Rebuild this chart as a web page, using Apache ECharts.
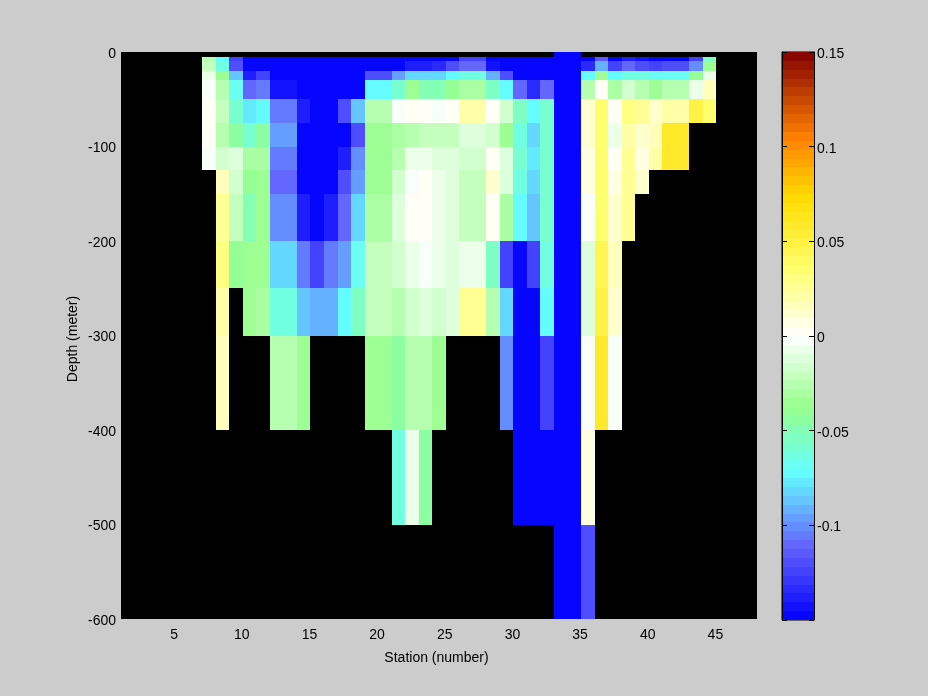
<!DOCTYPE html>
<html>
<head>
<meta charset="utf-8">
<style>html,body{margin:0;padding:0;background:#ccc}#c{width:928px;height:696px}</style>
<script src="https://cdn.jsdelivr.net/npm/echarts@6/dist/echarts.min.js"></script>
</head>
<body>
<div id="c"></div>
<script>
const _ = null;
const firstStation = 7;
const depthEdges = [0,-5,-10,-20,-30,-50,-75,-100,-125,-150,-200,-250,-300,-400,-500,-600];
const xTickLabels = [5,10,15,20,25,30,35,40,45];
const barTicks = [-0.15,-0.1,-0.05,0,0.05,0.1,0.15];

// values per depth layer, stations 7..44 (null = no data)
const layer00 = [_,_,_,_,_,_,_,_,_,_,_,_,_,_, _,_,_,_,_,_,_,_,_,_,_,_, -.15,-.15, _,_,_,_,_,_,_,_,_,_];
const layer01 = [-.025,-.072,-.126,-.15,-.15,-.15,-.15,-.15,-.15,-.15,-.15,-.15,-.15,-.15, -.15,-.15,-.15,-.15,-.15,-.126,-.126,-.15,-.15,-.15,-.15,-.15, -.15,-.15, -.15,-.116,-.15,-.14,-.142,-.15,-.15,-.15,-.126,-.054];
const layer02 = [-.02,-.062,-.118,-.15,-.15,-.15,-.15,-.15,-.15,-.15,-.15,-.15,-.15,-.15, -.15,-.137,-.137,-.133,-.121,-.111,-.111,-.145,-.15,-.15,-.15,-.15, -.15,-.15, -.133,-.093,-.126,-.111,-.118,-.126,-.121,-.121,-.101,-.033];
const layer03 = [-.008,-.037,-.086,-.137,-.126,-.15,-.15,-.15,-.15,-.15,-.15,-.15,-.118,-.118, -.094,-.08,-.08,-.08,-.072,-.062,-.062,-.093,-.118,-.15,-.15,-.15, -.15,-.15, -.072,-.033,-.072,-.062,-.065,-.07,-.066,-.066,-.04,-.008];
const layer04 = [-.004,-.025,-.067,-.111,-.106,-.145,-.145,-.15,-.15,-.15,-.15,-.15,-.072,-.072, -.057,-.037,-.05,-.05,-.042,-.032,-.032,-.054,-.072,-.111,-.135,-.111, -.15,-.15, -.028,.002,-.032,-.017,-.025,-.035,-.025,-.025,-.008,.016];
const layer05 = [.002,-.021,-.06,-.078,-.072,-.104,-.104,-.14,-.15,-.15,-.118,-.086,-.025,-.025, -.003,.002,.002,-.003,.002,.02,.02,.002,-.017,-.054,-.072,-.057, -.15,-.15, .01,.036,.001,.029,.024,.012,.022,.022,.05,.037];
const layer06 = [.002,-.025,-.044,-.057,-.044,-.094,-.094,-.15,-.15,-.15,-.15,-.118,-.037,-.037, -.032,-.025,-.02,-.02,-.02,-.01,-.01,-.017,-.035,-.064,-.084,-.057, -.15,-.15, .014,.036,-.008,.022,.01,.015,.058,.058,_,_];
const layer07 = [-.004,-.015,-.01,-.032,-.032,-.104,-.104,-.15,-.15,-.15,-.137,-.101,-.037,-.037, -.025,-.008,-.008,-.012,-.012,-.017,-.017,.002,-.012,-.057,-.076,-.057, -.15,-.15, .008,.036,.001,.024,.005,.021,.058,.058,_,_];
const layer08 = [_,.016,-.015,-.042,-.035,-.108,-.108,-.15,-.15,-.15,-.118,-.094,-.035,-.035, -.017,-.003,.003,-.007,-.012,-.022,-.022,.014,-.01,-.064,-.08,-.057, -.15,-.15, .005,.036,.008,.027,.01,_,_,_,_,_];
const layer09 = [_,.025,-.023,-.05,-.035,-.101,-.101,-.14,-.15,-.137,-.111,-.08,-.032,-.032, -.012,.002,.002,-.007,-.012,-.022,-.022,.002,-.032,-.075,-.086,-.057, -.15,-.15, -.003,.036,.013,.027,_,_,_,_,_,_];
const layer10 = [_,.032,-.042,-.037,-.037,-.08,-.08,-.106,-.123,-.106,-.094,-.067,-.02,-.02, -.017,-.008,-.004,-.007,-.01,-.008,-.008,-.054,-.123,-.15,-.123,-.062, -.15,-.15, -.01,.043,.016,_,_,_,_,_,_,_];
const layer11 = [_,.02,_,-.037,-.032,-.062,-.062,-.086,-.093,-.093,-.072,-.055,-.02,-.02, -.025,-.017,-.012,-.017,-.01,.027,.027,-.025,-.08,-.15,-.15,-.072, -.15,-.15, -.01,.05,.013,_,_,_,_,_,_,_];
const layer12 = [_,.018,_,_,_,-.025,-.025,-.037,_,_,_,_,-.037,-.037, -.044,-.025,-.025,-.037,_,_,_,_,-.101,-.15,-.15,-.126, -.15,-.15, -.003,.057,-.003,_,_,_,_,_,_,_];
const layer13 = [_,_,_,_,_,_,_,_,_,_,_,_,_,_, -.062,-.008,-.044,_,_,_,_,_,_,-.15,-.15,-.15, -.15,-.15, .006,_,_,_,_,_,_,_,_,_];
const layer14 = [_,_,_,_,_,_,_,_,_,_,_,_,_,_, _,_,_,_,_,_,_,_,_,_,_,_, -.15,-.15, -.118,_,_,_,_,_,_,_,_,_];
const layers = [layer00,layer01,layer02,layer03,layer04,layer05,layer06,layer07,layer08,layer09,layer10,layer11,layer12,layer13,layer14];

// colormap anchors [value, r, g, b], quantized to 64 levels
const cmapStops = [[-.15,0,0,255],[-.111,100,100,255],[-.072,100,255,255],[-.0375,150,255,140],[0,255,255,255],[.035,255,255,110],[.073,255,220,0],[.105,255,128,0],[.15,130,0,0]];
const LEVELS = 64, VMIN = -.15, VMAX = .15;
function rampColor(v){
  for(let i=1;i<cmapStops.length;i++){
    const a=cmapStops[i-1],b=cmapStops[i];
    if(v<=b[0]){const t=(v-a[0])/(b[0]-a[0]);
      return 'rgb('+[1,2,3].map(k=>Math.round(a[k]+(b[k]-a[k])*t)).join(',')+')';}
  }
  return 'rgb(130,0,0)';
}
function levelColor(v){
  let i=Math.floor((v-VMIN)/(VMAX-VMIN)*LEVELS);
  i=Math.max(0,Math.min(LEVELS-1,i));
  return rampColor(VMIN+(i+.5)*(VMAX-VMIN)/LEVELS);
}

const cells=[];
layers.forEach((row,r)=>row.forEach((v,k)=>{
  if(v===null)return;
  const s=firstStation+k;
  cells.push([s,s+1,depthEdges[r],depthEdges[r+1],v]);
}));
const bands=[];
for(let i=0;i<LEVELS;i++){
  const lo=VMIN+i*(VMAX-VMIN)/LEVELS, hi=lo+(VMAX-VMIN)/LEVELS;
  bands.push([0,1,hi,lo,(lo+hi)/2]);
}
function renderCell(params,api){
  const p0=api.coord([api.value(0),api.value(2)]);
  const p1=api.coord([api.value(1),api.value(3)]);
  const x0=Math.round(p0[0]),x1=Math.round(p1[0]),y0=Math.round(p0[1]),y1=Math.round(p1[1]);
  return {type:'rect',shape:{x:x0,y:y0,width:x1-x0,height:y1-y0},style:{fill:levelColor(api.value(4))}};
}
const font='"Liberation Sans",Arial,sans-serif';
const txt={color:'#000',fontFamily:font,fontSize:14};
const chart=echarts.init(document.getElementById('c'),null,{renderer:'canvas',width:928,height:696});
chart.setOption({
  animation:false,
  backgroundColor:'#cccccc',
  grid:[
    {left:121,top:52,width:636,height:567,show:true,backgroundColor:'#000',borderWidth:0,containLabel:false},
    {left:782,top:52,width:32,height:568,show:true,backgroundColor:'#000',borderColor:'#000',borderWidth:1,containLabel:false}
  ],
  xAxis:[
    {gridIndex:0,type:'value',min:1,max:48,
      name:'Station (number)',nameLocation:'middle',nameGap:32,nameMoveOverlap:false,nameTextStyle:Object.assign({padding:[0,5,0,0]},txt),
      axisLine:{show:false},axisTick:{show:false},splitLine:{show:false},
      axisLabel:Object.assign({margin:9,customValues:xTickLabels,padding:[0,2,0,0]},txt)},
    {gridIndex:1,type:'value',min:0,max:1,show:false}
  ],
  yAxis:[
    {gridIndex:0,type:'value',min:-600,max:0,interval:100,
      name:'Depth (meter)',nameLocation:'middle',nameGap:41,nameMoveOverlap:false,nameRotate:90,nameTextStyle:Object.assign({padding:[0,7,0,0]},txt),
      axisLine:{show:false},axisTick:{show:false},splitLine:{show:false},
      axisLabel:Object.assign({margin:5,verticalAlign:'top',padding:[-5,0,0,0]},txt)},
    {gridIndex:1,type:'value',min:VMIN,max:VMAX,position:'left',z:10,
      axisLine:{show:true,lineStyle:{color:'#000'}},
      axisTick:{show:true,inside:true,length:5,lineStyle:{color:'#000'},customValues:barTicks},
      axisLabel:{show:false},splitLine:{show:false}},
    {gridIndex:1,type:'value',min:VMIN,max:VMAX,position:'right',z:10,
      axisLine:{show:true,lineStyle:{color:'#000'}},
      axisTick:{show:true,inside:true,length:5,lineStyle:{color:'#000'},customValues:barTicks},
      axisLabel:Object.assign({margin:3,verticalAlign:'top',padding:[-5,0,0,0],customValues:barTicks.slice(1),
        formatter:v=>String(+(+v).toFixed(2))},txt),splitLine:{show:false}}
  ],
  series:[
    {type:'custom',name:'Anomaly',xAxisIndex:0,yAxisIndex:0,coordinateSystem:'cartesian2d',silent:true,
      renderItem:renderCell,data:cells,encode:{x:[0,1],y:[2,3]},clip:true},
    {type:'custom',name:'Colorbar',xAxisIndex:1,yAxisIndex:1,coordinateSystem:'cartesian2d',silent:true,
      renderItem:renderCell,data:bands,encode:{x:[0,1],y:[2,3]},z:1}
  ]
});
</script>
</body>
</html>
